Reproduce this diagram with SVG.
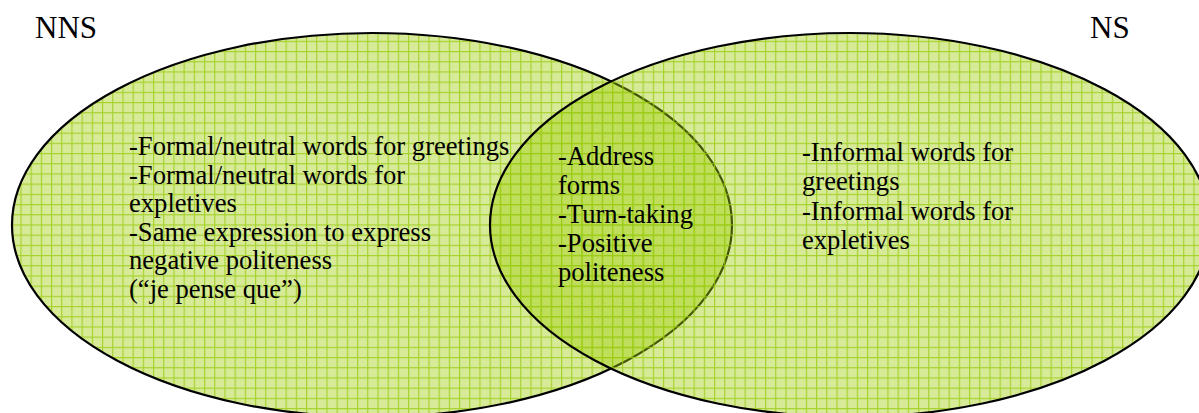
<svg xmlns="http://www.w3.org/2000/svg" width="1199" height="413" viewBox="0 0 1199 413">
  <style>
    text { font-family: 'Liberation Serif', 'Times New Roman', Times, 'DejaVu Serif', serif; fill: #000; }
    .t { font-size: 26.6px; }
    .h { font-size: 31px; }
    .e { fill: url(#grid); stroke: #000; stroke-width: 2.2; }
  </style>
  <defs>
    <pattern id="grid" patternUnits="userSpaceOnUse" x="0" y="0" width="10.2" height="10.2">
      <rect width="10.2" height="10.2" fill="#9ccd0a" fill-opacity="0.42"/>
      <path d="M0.5 0 V10.2 M0 0.5 H10.2" stroke="#9acb10" stroke-opacity="0.8" stroke-width="1.3" fill="none"/>
    </pattern>
  </defs>
  <rect width="1199" height="413" fill="#fff"/>
  <g id="nns-set">
    <ellipse class="e" cx="372" cy="225" rx="360" ry="192"/>
  </g>
  <g id="ns-set">
    <ellipse class="e" cx="850" cy="225" rx="360" ry="192"/>
  </g>
  <g id="connectors"></g>
  <g id="labels">
    <text class="h" x="35" y="38">NNS</text>
    <text class="h" x="1090" y="38">NS</text>
  </g>
  <g id="nns-text">
    <text class="t" x="129" y="155">-Formal/neutral words for greetings</text>
    <text class="t" x="129" y="183.5">-Formal/neutral words for</text>
    <text class="t" x="129" y="212">expletives</text>
    <text class="t" x="129" y="240.5">-Same expression to express</text>
    <text class="t" x="129" y="269">negative politeness</text>
    <text class="t" x="129" y="297.5">(“je pense que”)</text>
  </g>
  <g id="overlap-text">
    <text class="t" x="558" y="165">-Address</text>
    <text class="t" x="558" y="194">forms</text>
    <text class="t" x="558" y="223">-Turn-taking</text>
    <text class="t" x="558" y="252">-Positive</text>
    <text class="t" x="558" y="281">politeness</text>
  </g>
  <g id="ns-text">
    <text class="t" x="802" y="161">-Informal words for</text>
    <text class="t" x="802" y="190">greetings</text>
    <text class="t" x="802" y="220">-Informal words for</text>
    <text class="t" x="802" y="249">expletives</text>
  </g>
</svg>
